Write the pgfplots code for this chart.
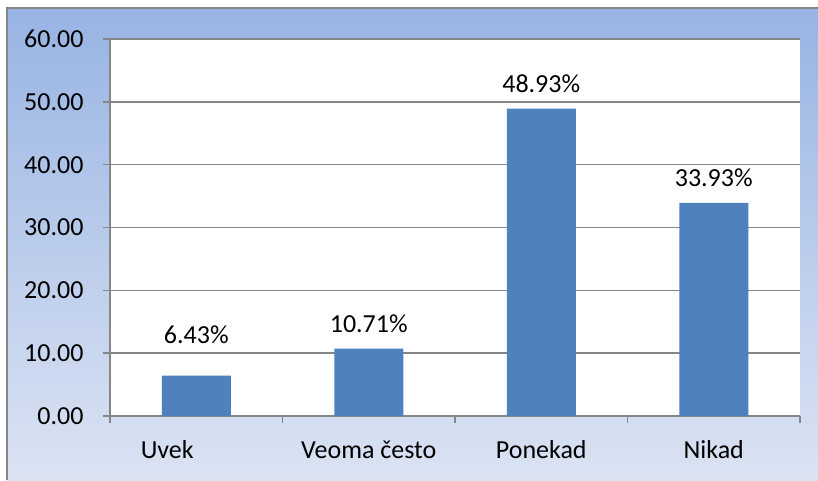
\documentclass[border=0pt]{standalone}
\usepackage{pgfplots}
\pgfplotsset{compat=1.18}
\usepackage{fontspec}
\setmainfont{Carlito}

\definecolor{barblue}{RGB}{79,129,189}
\definecolor{gridgray}{RGB}{134,134,134}
\definecolor{bgtop}{RGB}{152,180,227}
\definecolor{bgbot}{RGB}{219,227,243}

\pgfplotstableread{
x y s
0 6.43 16
1 10.71 0
2 48.93 0
3 33.93 0
}\answers

\begin{document}
\begin{tikzpicture}[x=1pt,y=1pt,font=\fontsize{26}{31}\selectfont]
\useasboundingbox (0,0) rectangle (818,480);
\fill[white] (0,0) rectangle (818,480);
\shade[top color=bgtop, bottom color=bgbot] (7,0) rectangle (818,472);
\draw[gridgray, line width=2] (7,0) -- (7,472) -- (818,472);
\begin{axis}[
    at={(110pt,64pt)}, anchor=south west,
    scale only axis, width=690pt, height=377pt,
    xmin=-0.5, xmax=3.5, ymin=0, ymax=60,
    axis background/.style={fill=white},
    axis lines*=left,
    axis line style={gridgray, line width=1.5pt},
    tick align=outside,
    major tick length=7pt,
    tick style={gridgray, line width=1.5pt},
    ytick={0,10,...,60},
    yticklabel={\pgfmathprintnumber[fixed,fixed zerofill,precision=2]{\tick}},
    yticklabel style={xshift=-16pt},
    /pgf/number format/assume math mode=true,
    ymajorgrids,
    major grid style={gridgray, line width=1.5pt},
    xtick={-0.5,0.5,1.5,2.5,3.5},
    xticklabels={},
    extra x ticks={0,1,2,3},
    extra x tick labels={\makebox[0pt]{Uvek\hspace*{58pt}},Veoma često,Ponekad,Nikad},
    extra x tick style={major tick length=0pt, xticklabel style={yshift=-21pt}},
    ybar, bar width=0.4,
    visualization depends on={\thisrow{s} \as \labshift},
    nodes near coords={\pgfmathprintnumber[fixed,fixed zerofill,precision=2]{\pgfplotspointmeta}\%},
    every node near coord/.append style={anchor=center, yshift=25pt+\labshift pt, text=black},
]
\addplot[fill=barblue, draw=none] table[x=x, y=y] {\answers};
\end{axis}
\end{tikzpicture}
\end{document}
